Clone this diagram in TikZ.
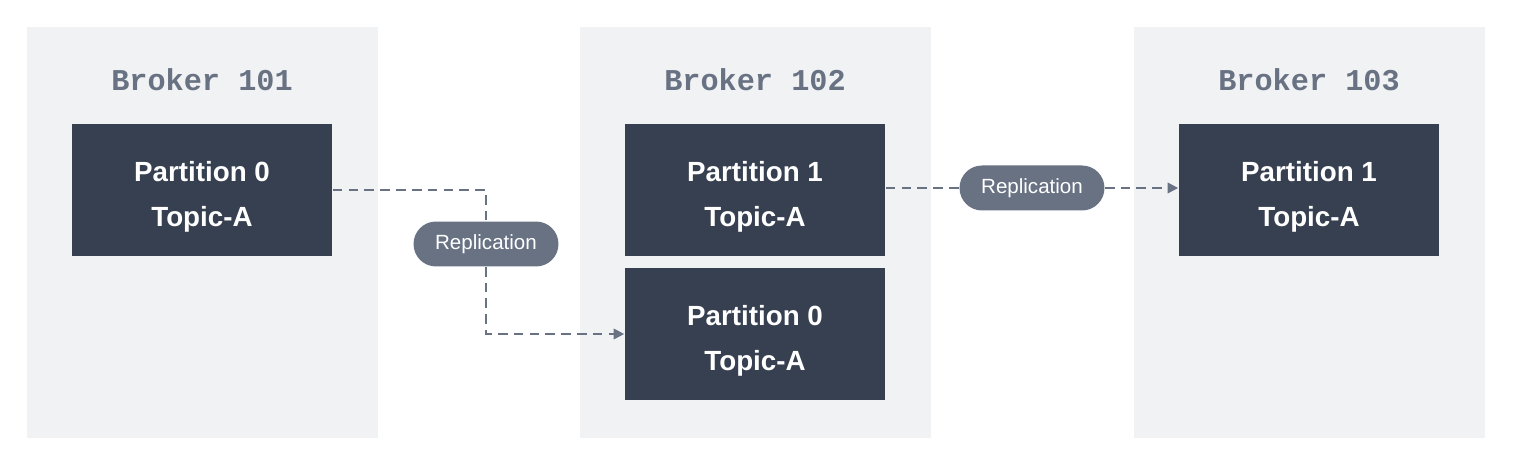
\documentclass[tikz,border=0pt]{standalone}
\usepackage{fontspec}
\setmainfont{Liberation Sans}
\setmonofont{Liberation Mono}
\usetikzlibrary{arrows.meta}
\definecolor{panel}{HTML}{F1F2F4}
\definecolor{slate}{HTML}{364050}
\definecolor{steel}{HTML}{687283}
\def\dline{\draw[steel,line width=1.1pt,dash pattern=on 5.5pt off 3.5pt]}
\def\link{\dline[-{Triangle[length=6pt,width=6pt]}]}
\def\ptxt#1{\rule{0pt}{19pt}Partition #1\\Topic-A}

\begin{document}
\begin{tikzpicture}[x=0.02cm,y=-0.02cm,
    part/.style={fill=slate,text=white,minimum width=5.22cm,minimum height=2.64cm,
      align=center,font=\bfseries\fontsize{15.8}{25.5}\selectfont},
    repl/.style={fill=steel,text=white,rounded corners=0.45cm,minimum width=2.9cm,
      minimum height=0.9cm,font=\fontsize{11.7}{13}\selectfont},
    title/.style={text=steel,font=\ttfamily\bfseries\fontsize{17.2}{20}\selectfont}]
  \useasboundingbox (0,0) rectangle (1528,472);
  \foreach \x/\n in {27/101,580/102,1134/103} {
    \fill[panel] (\x,27) rectangle ++(351,411);
    \node[title] (t\n) at (\x+175,80) {Broker \n};
  }
  \node[part] (a0) at (202,190) {\ptxt{0}};
  \node[part] (b1) at (755,190) {\ptxt{1}};
  \node[part] (b0) at (755,334) {\ptxt{0}};
  \node[part] (c1) at (1309,190) {\ptxt{1}};
  \node[repl] (r1) at (486,244) {Replication};
  \node[repl] (r2) at (1032,188) {Replication};
  % replication links
  \dline (a0.east) -| (r1.north);
  \link (r1.south) |- (b0.west);
  \dline (b1.east |- r2) -- (r2.west);
  \link (r2.east) -- (c1.west |- r2);
\end{tikzpicture}
\end{document}
